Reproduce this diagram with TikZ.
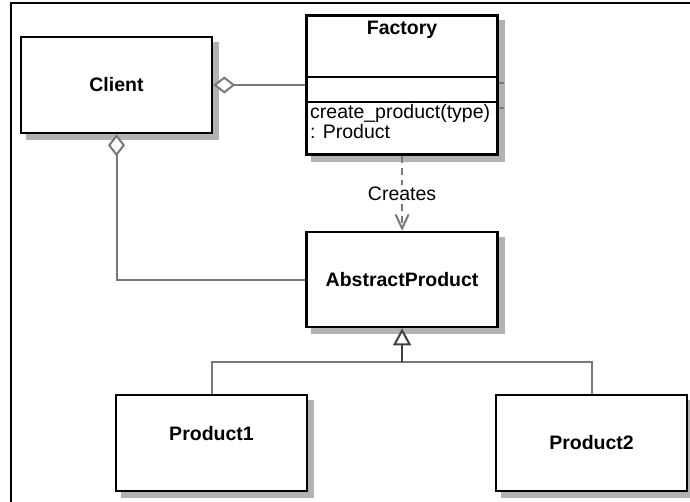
\documentclass[tikz,border=0pt]{standalone}
\usepackage{fontspec}
\setmainfont{Liberation Sans}
\usetikzlibrary{arrows.meta, positioning, backgrounds}
\definecolor{connector}{gray}{0.47}
\definecolor{shade}{gray}{0.7}
\tikzset{x=1pt, y=-1pt,
    classbox/.style={rectangle, draw, line width=2.6pt, fill=white, inner sep=0pt,
        minimum width=191pt, minimum height=96pt,
        font=\bfseries\fontsize{19.5}{22}\selectfont},
    boxshadow/.style={fill=shade},
    member/.style={inner sep=0pt, font=\fontsize{19.5}{22}\selectfont},
    classline/.style={line width=2.6pt},
    frame/.style={line width=1.6pt},
    aggregation/.style={draw=connector, line width=2pt,
        {Diamond[open, fill=white, length=22pt, width=17pt]}-},
    dependency/.style={draw=connector, line width=2pt, dash pattern=on 7pt off 5pt,
        -{Straight Barb[length=14pt, width=13pt]}},
    generalization/.style={draw=black!75, line width=2pt,
        {Triangle[open, fill=white, length=17pt, width=18pt]}-},
    link/.style={draw=connector, line width=2pt}}

\begin{document}
\begin{tikzpicture}
\useasboundingbox (0,0) rectangle (690,502);
\draw[frame] (11,502) -- (11,3) -- (690,3);

% classes
\node[classbox]                          (client)   at (116.5,85)      {Client};
\node[classbox, minimum height=139pt]    (factory)  [right=92pt of client] {};
\node[classbox, minimum height=95pt]     (abstract) [below=75pt of factory] {AbstractProduct};
\node[classbox, text depth=20pt]         (product1) at (211.5,443)     {Product1};
\node[classbox]                          (product2) at (591.5,443)     {Product2};

% shadows
\begin{scope}[on background layer]
\foreach \n in {client, factory, abstract, product1, product2}
    \fill[boxshadow] ([xshift=6pt, yshift=-6pt]\n.north west) rectangle ([xshift=6pt, yshift=-6pt]\n.south east);
\draw[shade!70!black, line width=1.5pt] ([yshift=-69pt]factory.north east) -- ++(5,0);
\draw[shade!70!black, line width=1.5pt] ([yshift=-94pt]factory.north east) -- ++(5,0);
\end{scope}

% factory compartments
\draw[classline] ([yshift=-63pt]factory.north west) -- ([yshift=-63pt]factory.north east);
\draw[classline] ([yshift=-88pt]factory.north west) -- ([yshift=-88pt]factory.north east);
\node[member, font=\bfseries\fontsize{19.5}{22}\selectfont, anchor=base]
    (factoryname) at ([yshift=-20pt]factory.north) {Factory};
\node[member, anchor=base west] (createop)  at (310,119) {create\_product(type)};
\node[member, anchor=base west] (createret) at (310,139) {: Product};

% relations
\draw[aggregation] (client.east) -- (factory.west);
\draw[aggregation] (client.south) |- (abstract.west);
\draw[dependency] (factory.south) -- node[member, fill=white, inner sep=1pt] (creates) {Creates} (abstract.north);

\coordinate (joint) at ([yshift=-34pt]abstract.south);
\draw[link] (product1.north) |- (joint) -| (product2.north);
\draw[generalization] (abstract.south) -- (joint);
\end{tikzpicture}
\end{document}
